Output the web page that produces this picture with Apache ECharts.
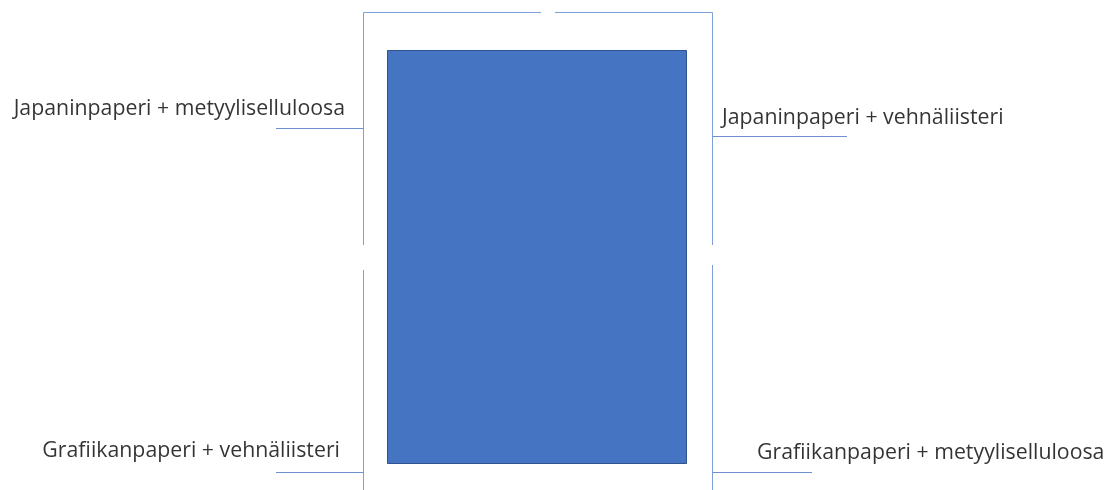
<!DOCTYPE html>
<html>
<head>
<meta charset="utf-8">
<script src="https://cdn.jsdelivr.net/npm/echarts@6/dist/echarts.min.js"></script>
<style>
html,body{margin:0;padding:0;background:#fff;}
#chart{width:1107px;height:490px;}
</style>
</head>
<body>
<div id="chart"></div>
<script>
// Diagram geometry, expressed in the chart's own (pixel-sized) data space
var canvasSize = [1107, 490];
// central sample block: [x0, y0, x1, y1]
var sampleBlock = [[387, 50, 686, 463]];
// bracket and leader segments: [[x0,y0],[x1,y1]]
var bracketSegments = [
  [[363.5, 12.5], [541, 12.5]],
  [[555, 12.5], [712.5, 12.5]],
  [[363.5, 12.5], [363.5, 245]],
  [[712.5, 12.5], [712.5, 245]],
  [[363.5, 270], [363.5, 490]],
  [[712.5, 265], [712.5, 490]]
];
var leaderSegments = [
  [[276, 128.5], [363.5, 128.5]],
  [[712.5, 136.5], [847, 136.5]],
  [[276, 472.5], [363.5, 472.5]],
  [[712.5, 472.5], [812, 472.5]]
];
// labels
var labelNames = [
  'Japaninpaperi + metyyliselluloosa',
  'Japaninpaperi + vehnäliisteri',
  'Grafiikanpaperi + vehnäliisteri',
  'Grafiikanpaperi + metyyliselluloosa'
];
var labelAnchors = [[345, 109], [722, 118], [340, 451], [757, 453]];
var labelAligns = ['right', 'left', 'right', 'left'];

var chart = echarts.init(document.getElementById('chart'), null, {renderer: 'canvas'});

var lineColor = '#7F9FDA';
var fontFamily = '"Open Sans", "Noto Sans", sans-serif';

function segData(list) {
  return list.map(function (s) { return {coords: s}; });
}

var option = {
  animation: false,
  backgroundColor: '#ffffff',
  grid: {left: 0, right: 0, top: 0, bottom: 0, containLabel: false},
  xAxis: {type: 'value', min: 0, max: canvasSize[0], show: false},
  yAxis: {type: 'value', min: 0, max: canvasSize[1], inverse: true, show: false},
  series: [
    {
      type: 'custom',
      coordinateSystem: 'cartesian2d',
      data: sampleBlock,
      encode: {x: [0, 2], y: [1, 3]},
      renderItem: function (params, api) {
        var p0 = api.coord([api.value(0), api.value(1)]);
        var p1 = api.coord([api.value(2), api.value(3)]);
        return {
          type: 'rect',
          shape: {x: p0[0] + 0.5, y: p0[1] + 0.5, width: p1[0] - p0[0], height: p1[1] - p0[1]},
          style: {fill: '#4574C3', stroke: '#30528F', lineWidth: 1}
        };
      },
      silent: true
    },
    {
      type: 'lines',
      coordinateSystem: 'cartesian2d',
      data: segData(bracketSegments),
      lineStyle: {color: lineColor, width: 1, opacity: 1},
      silent: true
    },
    {
      type: 'lines',
      coordinateSystem: 'cartesian2d',
      data: segData(leaderSegments),
      lineStyle: {color: '#6F91D3', width: 1, opacity: 1},
      silent: true
    },
    {
      type: 'scatter',
      symbolSize: 0,
      silent: true,
      data: labelNames.map(function (n, i) {
        return {
          value: labelAnchors[i],
          name: n,
          label: {
            show: true,
            position: 'inside',
            align: labelAligns[i],
            verticalAlign: 'middle',
            formatter: n,
            color: '#000000',
            fontSize: 21.3,
            fontFamily: fontFamily
          }
        };
      })
    }
  ]
};
chart.setOption(option);
</script>
</body>
</html>
